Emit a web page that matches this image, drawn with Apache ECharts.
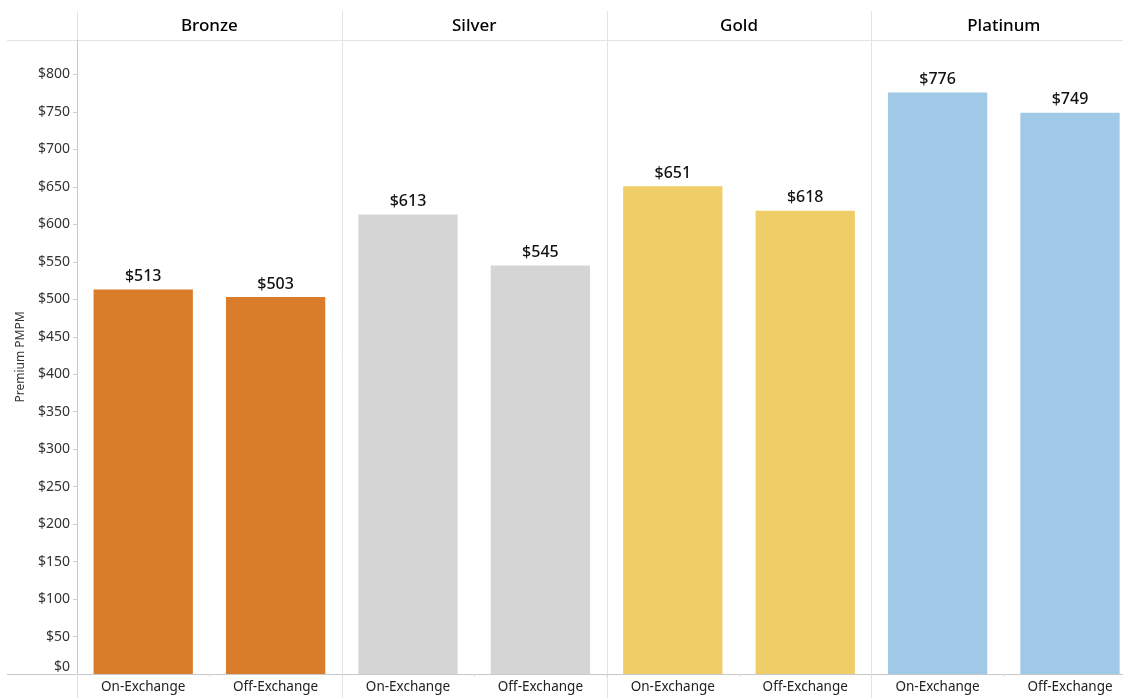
<!DOCTYPE html>
<html>
<head>
<meta charset="utf-8">
<script src="https://cdn.jsdelivr.net/npm/echarts@6/dist/echarts.min.js"></script>
<style>
html,body{margin:0;padding:0;background:#fff;overflow:hidden;width:1123px;height:698px;}
#chart{width:1140px;height:698px;}
</style>
</head>
<body>
<div id="chart"></div>
<script>
const tiers = ['Bronze', 'Silver', 'Gold', 'Platinum'];
const exchanges = ['On-Exchange', 'Off-Exchange'];
const onExchange = [513, 613, 651, 776];
const offExchange = [503, 545, 618, 749];
const tierColors = ['#D97D2A', '#D5D5D5', '#EFCD67', '#A0C9E8'];
const yTicks = [0, 50, 100, 150, 200, 250, 300, 350, 400, 450, 500, 550, 600, 650, 700, 750, 800];

const FONT = '"Noto Sans", "Open Sans", sans-serif';
const PANEL_LEFT = 77, PANEL_W = 264.8, TOP = 40, BOTTOM_Y = 674;

const chart = echarts.init(document.getElementById('chart'));
const grids = [], xAxes = [], yAxes = [], series = [];

tiers.forEach((t, i) => {
  grids.push({left: PANEL_LEFT + PANEL_W * i, top: TOP, width: PANEL_W, height: BOTTOM_Y - TOP, containLabel: false});
  xAxes.push({
    type: 'category', gridIndex: i, data: exchanges,
    axisLine: {lineStyle: {color: '#c8c8c8'}},
    axisTick: {show: true, alignWithLabel: false, length: 3, lineStyle: {color: '#e0e0e0'}},
    axisLabel: {color: '#222', fontSize: 13.5, fontFamily: FONT, margin: 6, interval: 0}
  });
  xAxes.push({
    type: 'category', gridIndex: i, position: 'top', data: [t],
    axisLine: {show: false}, axisTick: {show: false},
    axisLabel: {color: '#000', fontSize: 17, fontWeight: 500, fontFamily: FONT, margin: 5}
  });
  yAxes.push({
    type: 'value', gridIndex: i, min: 0, max: 846, interval: 50,
    show: i === 0,
    name: i === 0 ? 'Premium PMPM' : '',
    nameLocation: 'middle', nameGap: 50,
    nameTextStyle: {color: '#333', fontSize: 12, fontFamily: FONT},
    axisLine: {show: i === 0, lineStyle: {color: '#c8c8c8'}},
    axisTick: {show: i === 0, length: 4, lineStyle: {color: '#d0d0d0'}},
    splitLine: {show: false},
    axisLabel: {
      show: i === 0, color: '#333', fontSize: 14, fontFamily: FONT, margin: 7,
      showMaxLabel: false, verticalAlignMinLabel: 'bottom',
      formatter: v => yTicks.includes(v) ? '$' + v : ''
    }
  });
  series.push({
    type: 'bar', xAxisIndex: i * 2, yAxisIndex: i,
    data: [onExchange[i], offExchange[i]],
    barCategoryGap: '25%',
    itemStyle: {color: tierColors[i]},
    label: {show: true, position: 'top', distance: 5, color: '#111', fontSize: 16, fontWeight: 500, fontFamily: FONT,
      formatter: p => '$' + p.value}
  });
});

const graphic = [];
const light = '#e3e3e3';
for (let i = 0; i < 4; i++) {
  const x = Math.round(PANEL_LEFT + PANEL_W * i) + 0.5;
  graphic.push({type: 'line', z: -1, shape: {x1: x, y1: 11, x2: x, y2: 698}, style: {stroke: light, lineWidth: 1}});
}
graphic.push({type: 'line', z: -1, shape: {x1: 7, y1: TOP + 0.5, x2: 1140, y2: TOP + 0.5}, style: {stroke: light, lineWidth: 1}});
graphic.push({type: 'line', z: -1, shape: {x1: 7, y1: BOTTOM_Y + 0.5, x2: PANEL_LEFT, y2: BOTTOM_Y + 0.5}, style: {stroke: '#c8c8c8', lineWidth: 1}});

chart.setOption({
  animation: false,
  backgroundColor: '#fff',
  grid: grids, xAxis: xAxes, yAxis: yAxes, series: series, graphic: graphic
});
</script>
</body>
</html>
